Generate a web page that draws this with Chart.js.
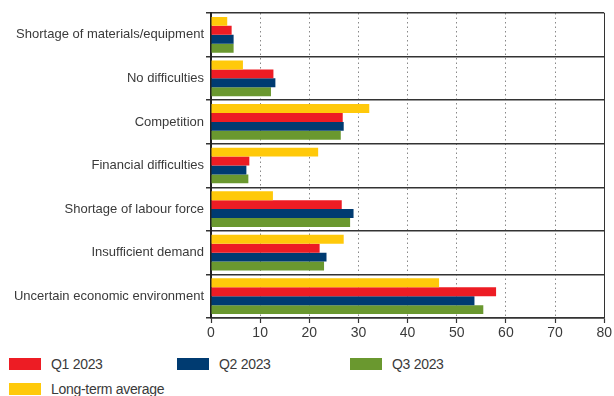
<!DOCTYPE html>
<html>
<head>
<meta charset="utf-8">
<script src="https://cdn.jsdelivr.net/npm/chart.js@4"></script>
<style>
  html, body { margin: 0; padding: 0; background: #fff; }
  body { width: 614px; height: 396px; position: relative; overflow: hidden;
    font-family: "Liberation Sans", Arial, sans-serif; color: #3a3a3a; }
  #wrap { position: absolute; left: 0; top: 0; width: 614px; height: 345px; }
  .leg { position: absolute; display: flex; align-items: center; font-size: 14px; white-space: nowrap; letter-spacing: -0.3px; }
  .leg span.sw { display: inline-block; width: 32px; height: 12px; margin-right: 10px; }
</style>
</head>
<body>
<div id="wrap"><canvas id="chart"></canvas></div>
<div id="legend"></div>
<script>
const categories = [
  "Shortage of materials/equipment",
  "No difficulties",
  "Competition",
  "Financial difficulties",
  "Shortage of labour force",
  "Insufficient demand",
  "Uncertain economic environment",
];
const longTerm = [3.3, 6.5, 32.2, 21.8, 12.6, 27.0, 46.4];
const q1 = [4.2, 12.7, 26.8, 7.8, 26.6, 22.1, 58.0];
const q2 = [4.6, 13.1, 27.0, 7.2, 29.0, 23.5, 53.6];
const q3 = [4.6, 12.2, 26.4, 7.6, 28.3, 23.0, 55.4];
const xTicks = [0, 10, 20, 30, 40, 50, 60, 70, 80];

const colors = {
  q1: "#ED1C24",
  q2: "#003B71",
  q3: "#6A982F",
  lt: "#FFC90A",
};

const font = "'Liberation Sans', Arial, sans-serif";

// legend (html, laid out in columns like the original)
const legendItems = [
  { label: "Q1 2023", color: colors.q1, x: 9, y: 358 },
  { label: "Q2 2023", color: colors.q2, x: 177, y: 358 },
  { label: "Q3 2023", color: colors.q3, x: 350, y: 358 },
  { label: "Long-term average", color: colors.lt, x: 9, y: 383 },
];
const legendEl = document.getElementById("legend");
legendItems.forEach((it) => {
  const d = document.createElement("div");
  d.className = "leg";
  d.style.left = it.x + "px";
  d.style.top = it.y - 2 + "px";
  d.innerHTML = `<span class="sw" style="background:${it.color}"></span>${it.label}`;
  legendEl.appendChild(d);
});

new Chart("chart", {
  type: "bar",
  data: {
    labels: categories,
    datasets: [
      { label: "Long-term average", data: longTerm, backgroundColor: colors.lt },
      { label: "Q1 2023", data: q1, backgroundColor: colors.q1 },
      { label: "Q2 2023", data: q2, backgroundColor: colors.q2 },
      { label: "Q3 2023", data: q3, backgroundColor: colors.q3 },
    ],
  },
  options: {
    indexAxis: "y",
    responsive: true,
    maintainAspectRatio: false,
    animation: false,
    categoryPercentage: 0.82,
    barPercentage: 1,
    layout: { padding: { top: 13, right: 9, left: 0, bottom: 0 } },
    plugins: {
      legend: { display: false },
      tooltip: { enabled: false },
    },
    scales: {
      x: {
        min: 0,
        max: 80,
        afterBuildTicks: (scale) => {
          scale.ticks = xTicks.map((v) => ({ value: v }));
        },
        afterFit: (scale) => {
          scale.height = 345 - 318;
        },
        ticks: {
          color: "#3a3a3a",
          font: { family: font, size: 14 },
          padding: 2,
          maxRotation: 0,
        },
        grid: {
          color: (ctx) => {
            if (!ctx.tick) return "#999";
            if (ctx.tick.value === 0) return "rgba(0,0,0,0)";
            if (ctx.tick.value === 80) return "#333";
            return "#888";
          },
          lineWidth: 1,
          tickLength: 5,
          tickColor: "#333",
          tickWidth: 1.2,
        },
        border: {
          color: "#333",
          width: 1.5,
          dash: (ctx) => (ctx.tick && ctx.tick.value !== 80 ? [1.5, 3] : []),
        },
      },
      y: {
        afterFit: (scale) => {
          scale.width = 211;
        },
        ticks: {
          color: "#3a3a3a",
          font: { family: font, size: 13 },
          padding: 2,
        },
        grid: {
          color: "#333",
          lineWidth: 1.5,
          tickLength: 5,
        },
        border: { color: "#222", width: 2 },
      },
    },
  },
});
</script>
</body>
</html>
